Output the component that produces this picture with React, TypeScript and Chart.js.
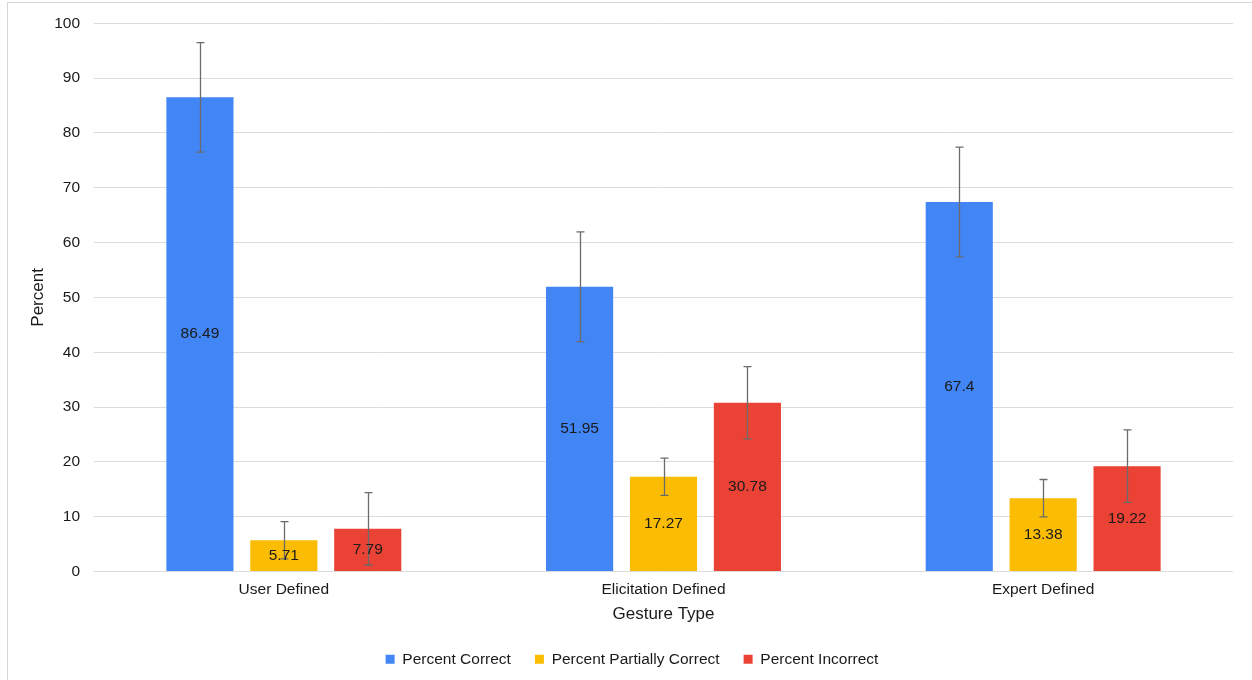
import React, { useEffect, useRef } from "react";
import { Chart, registerables } from "chart.js";

Chart.register(...registerables);

const categories = ["User Defined", "Elicitation Defined", "Expert Defined"];
const seriesNames = ["Percent Correct", "Percent Partially Correct", "Percent Incorrect"];
const correct = [86.49, 51.95, 67.4];
const partiallyCorrect = [5.71, 17.27, 13.38];
const incorrect = [7.79, 30.78, 19.22];
const correctErr = [10, 10, 10];
const partiallyErr = [3.4, 3.4, 3.4];
const incorrectErr = [6.6, 6.6, 6.6];
const colors = ["#4285F4", "#FBBC04", "#EA4335"];
const yTicks = [0, 10, 20, 30, 40, 50, 60, 70, 80, 90, 100];

const FONT = "'Liberation Sans', Arial, sans-serif";

const errorBarPlugin = {
  id: "errorBars",
  afterDatasetsDraw(chart: any) {
    const ctx = chart.ctx;
    const yScale = chart.scales.y;
    chart.data.datasets.forEach((ds: any, di: number) => {
      const meta = chart.getDatasetMeta(di);
      if (!meta.visible) return;
      meta.data.forEach((bar: any, i: number) => {
        const v = ds.data[i];
        const e = ds.errors[i];
        const yTop = yScale.getPixelForValue(v + e);
        const yBot = yScale.getPixelForValue(Math.max(0, v - e));
        const x = Math.round(bar.x) + 0.5;
        ctx.save();
        ctx.strokeStyle = "#6b6b6b";
        ctx.lineWidth = 1.3;
        ctx.beginPath();
        ctx.moveTo(x, yTop);
        ctx.lineTo(x, yBot);
        ctx.moveTo(x - 4, yTop);
        ctx.lineTo(x + 4, yTop);
        ctx.moveTo(x - 4, yBot);
        ctx.lineTo(x + 4, yBot);
        ctx.stroke();
        ctx.restore();
      });
    });
  },
};

const dataLabelPlugin = {
  id: "dataLabels",
  afterDatasetsDraw(chart: any) {
    const ctx = chart.ctx;
    chart.data.datasets.forEach((ds: any, di: number) => {
      const meta = chart.getDatasetMeta(di);
      if (!meta.visible) return;
      meta.data.forEach((bar: any, i: number) => {
        const cy = (bar.y + bar.base) / 2;
        ctx.save();
        ctx.fillStyle = "#1a1a1a";
        ctx.font = `15.5px ${FONT}`;
        ctx.textAlign = "center";
        ctx.textBaseline = "middle";
        ctx.fillText(String(ds.data[i]), bar.x, cy);
        ctx.restore();
      });
    });
  },
};

export default function App() {
  const ref = useRef<HTMLCanvasElement>(null);
  useEffect(() => {
    const values = [correct, partiallyCorrect, incorrect];
    const errs = [correctErr, partiallyErr, incorrectErr];
    const chart = new Chart(ref.current as HTMLCanvasElement, {
      type: "bar",
      data: {
        labels: categories,
        datasets: seriesNames.map((name, k) => ({
          label: name,
          data: values[k],
          errors: errs[k],
          backgroundColor: colors[k],
          borderWidth: 0,
          barPercentage: 0.8,
          categoryPercentage: 0.663,
        })) as any,
      },
      options: {
        responsive: false,
        animation: false,
        devicePixelRatio: 1,
        layout: { padding: { top: 10, right: 19, left: 31, bottom: 3 } },
        plugins: {
          tooltip: { enabled: false },
          legend: {
            position: "bottom",
            labels: {
              boxWidth: 9,
              boxHeight: 9,
              padding: 24,
              color: "#1a1a1a",
              font: { family: FONT, size: 15.5 },
            },
          },
        },
        scales: {
          x: {
            grid: { display: false },
            border: { display: false },
            ticks: { color: "#1a1a1a", padding: 1, font: { family: FONT, size: 15.5 } },
            title: {
              display: true,
              text: "Gesture Type",
              color: "#1a1a1a",
              font: { family: FONT, size: 17 },
              padding: { top: 0, bottom: 3 },
            },
            afterFit: (s: any) => {
              s.height = 56;
            },
          },
          y: {
            min: 0,
            max: 100,
            afterBuildTicks: (s: any) => {
              s.ticks = yTicks.map((v) => ({ value: v }));
            },
            grid: { color: "#dcdcdc", drawTicks: false, lineWidth: 1 },
            border: { display: false },
            ticks: { color: "#1a1a1a", padding: 14, font: { family: FONT, size: 15.5 } },
            title: {
              display: true,
              text: "Percent",
              color: "#1a1a1a",
              font: { family: FONT, size: 17 },
              padding: { top: -3, bottom: 0 },
            },
            afterFit: (s: any) => {
              s.width = 63;
            },
          },
        },
      },
      plugins: [errorBarPlugin, dataLabelPlugin],
    });
    return () => chart.destroy();
  }, []);
  return (
    <div>
      <div
        style={{
          position: "fixed",
          left: 7,
          top: 2,
          width: 1300,
          height: 720,
          border: "1px solid #d6d6d6",
          boxSizing: "border-box",
        }}
      />
      <canvas
        ref={ref}
        width={1252}
        height={680}
        style={{ position: "fixed", left: 0, top: 0, width: 1252, height: 680 }}
      />
    </div>
  );
}
